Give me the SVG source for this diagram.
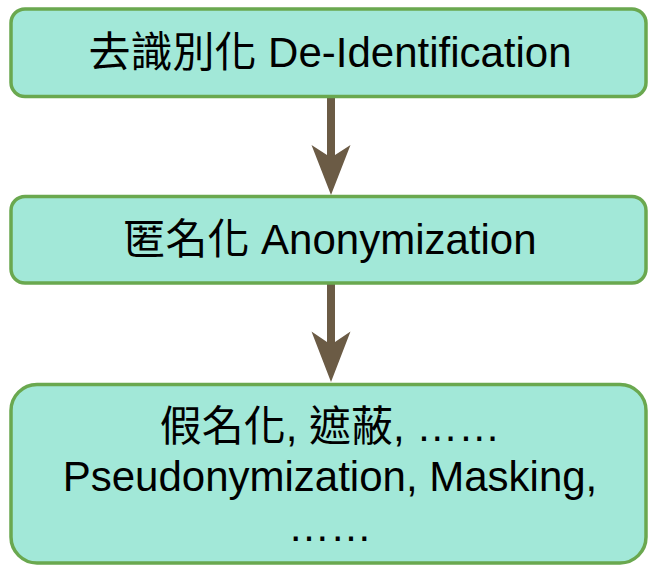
<svg xmlns="http://www.w3.org/2000/svg" width="648" height="566" viewBox="0 0 648 566">
  <style>
    .box { fill: #a2e8d8; stroke: #6aa84f; stroke-width: 3.5; }
    .lbl { font-family: "Liberation Sans", "Noto Sans CJK TC", sans-serif; font-size: 42px; fill: #000; text-anchor: middle; }
    .arr { fill: #6b5b45; stroke: none; }
  </style>
  <rect x="0" y="0" width="648" height="566" fill="#ffffff"/>
  <g id="connectors">
    <polygon class="arr" points="327,96.5 335,96.5 335,155 350.5,145 331,195 311.5,145 327,155"/>
    <polygon class="arr" points="327,283 335,283 335,342 350.5,331.5 331,382 311.5,331.5 327,342"/>
  </g>
  <g id="deidentification">
    <rect class="box" x="11" y="9" width="635" height="87.5" rx="14" ry="14"/>
    <text class="lbl" x="330" y="67">去識別化 De-Identification</text>
  </g>
  <g id="anonymization">
    <rect class="box" x="11" y="196.5" width="635" height="86.5" rx="14" ry="14"/>
    <text class="lbl" x="330" y="254">匿名化 Anonymization</text>
  </g>
  <g id="pseudonymization">
    <rect class="box" x="11" y="384.5" width="635" height="178.5" rx="26" ry="26"/>
    <text class="lbl" x="330" y="441">假名化, 遮蔽, ……</text>
    <text class="lbl" x="330" y="491">Pseudonymization, Masking,</text>
    <text class="lbl" x="330" y="541">……</text>
  </g>
</svg>
